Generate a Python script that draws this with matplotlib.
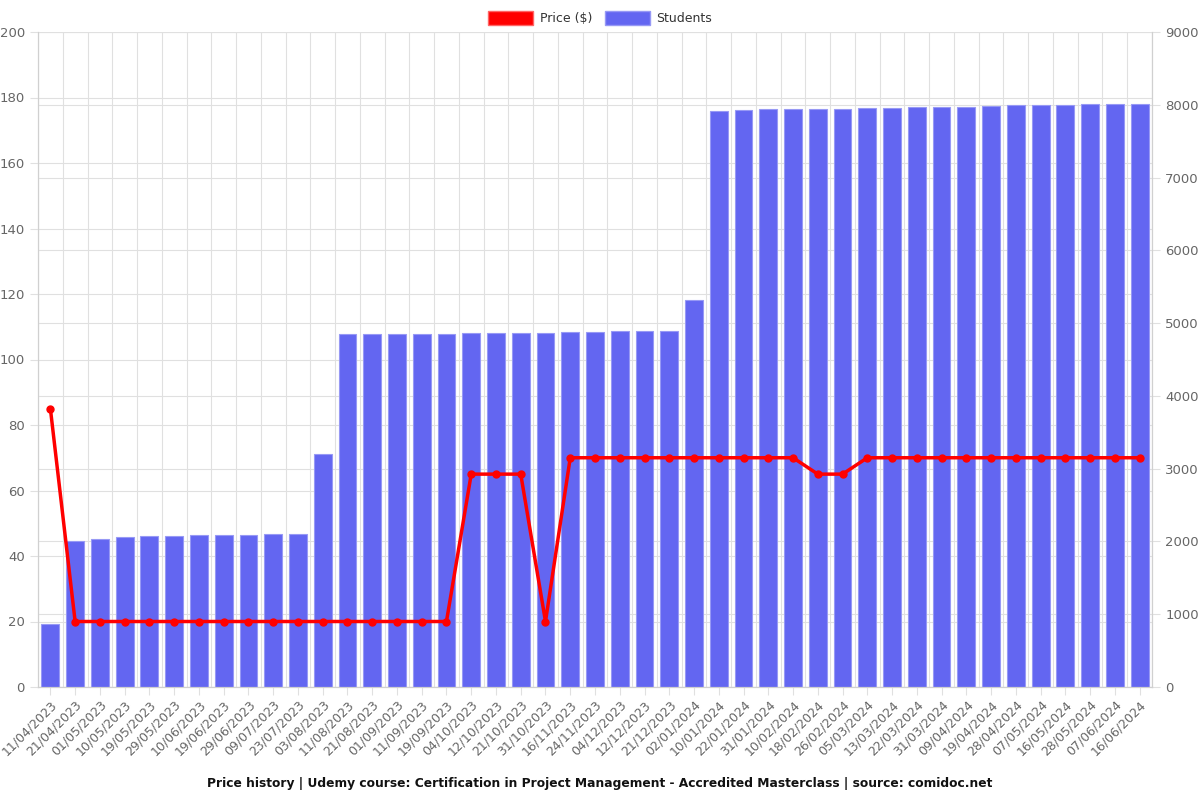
import matplotlib
matplotlib.use("Agg")
import matplotlib.pyplot as plt
from matplotlib.patches import Patch
import numpy as np

dates = ["11/04/2023", "21/04/2023", "01/05/2023", "10/05/2023", "19/05/2023", "29/05/2023",
         "10/06/2023", "19/06/2023", "29/06/2023", "09/07/2023", "23/07/2023", "03/08/2023",
         "11/08/2023", "21/08/2023", "01/09/2023", "11/09/2023", "19/09/2023", "04/10/2023",
         "12/10/2023", "21/10/2023", "31/10/2023", "16/11/2023", "24/11/2023", "04/12/2023",
         "12/12/2023", "21/12/2023", "02/01/2024", "10/01/2024", "22/01/2024", "31/01/2024",
         "10/02/2024", "18/02/2024", "26/02/2024", "05/03/2024", "13/03/2024", "22/03/2024",
         "31/03/2024", "09/04/2024", "19/04/2024", "28/04/2024", "07/05/2024", "16/05/2024",
         "28/05/2024", "07/06/2024", "16/06/2024"]

price = [85, 20, 20, 20, 20, 20, 20, 20, 20, 20, 20, 20, 20, 20, 20, 20, 20, 65, 65, 65,
         20, 70, 70, 70, 70, 70, 70, 70, 70, 70, 70, 65, 65, 70, 70, 70, 70, 70, 70, 70,
         70, 70, 70, 70, 70]

students = [868, 2006, 2033, 2056, 2070, 2079, 2088, 2090, 2093, 2098, 2102, 3197,
            4845, 4847, 4850, 4852, 4855, 4860, 4865, 4867, 4870, 4875, 4880, 4885,
            4890, 4895, 5317, 7914, 7928, 7937, 7939, 7942, 7946, 7956, 7958, 7965,
            7969, 7974, 7983, 7992, 7997, 8001, 8005, 8010, 8015]

fig = plt.figure(figsize=(12, 8), dpi=100)
ax = fig.add_axes([38/1200, 1 - 687/800, (1152-38)/1200, (687-32)/800])
ax2 = ax.twinx()

x = np.arange(len(dates))
bar_color = "#6366F1"
ax2.bar(x, students, width=0.72, color=bar_color, edgecolor="#9799F5", linewidth=0.8, zorder=2)
ax2.set_ylim(0, 9000)
ax2.set_yticks(np.arange(0, 9001, 1000))

ax.set_ylim(0, 200)
ax.set_yticks(np.arange(0, 201, 20))
ax.set_xlim(-0.5, len(dates) - 0.5)

ax.set_zorder(ax2.get_zorder() + 1)
ax.patch.set_visible(False)
ax.plot(x, price, color="#FF0000", linewidth=2.5, marker="o", markersize=5, zorder=5)

grid_c = "#E0E0E0"
for v in np.arange(0, 201, 20):
    ax2.axhline(v * 45, color=grid_c, linewidth=0.8, zorder=0)
for v in np.arange(0, 9001, 1000):
    ax2.axhline(v, color=grid_c, linewidth=0.8, zorder=0)
for b in np.arange(-0.5, len(dates), 1):
    ax2.axvline(b, color=grid_c, linewidth=0.8, zorder=0)

ax.set_xticks(x)
ax.set_xticklabels(dates, rotation=45, ha="right", rotation_mode="anchor", fontsize=9, color="#666666")
ax.tick_params(axis="x", length=6, color=grid_c, pad=2)
ax.tick_params(axis="y", labelsize=9.5, colors="#666666", length=6, color=grid_c)
ax2.tick_params(axis="y", labelsize=9.5, colors="#666666", length=6, color=grid_c)

for a in (ax, ax2):
    for s in a.spines.values():
        s.set_color("#D0D0D0")
        s.set_linewidth(0.8)
    a.spines["top"].set_visible(False)

handles = [Patch(facecolor="#FF0000", edgecolor="#FF6666"),
           Patch(facecolor=bar_color, edgecolor="#9799F5")]
fig.legend(handles, ["Price ($)", "Students"], loc="upper center", bbox_to_anchor=(0.5, 1.0),
           ncol=2, frameon=False, fontsize=9, handlelength=3.6, handleheight=1.3,
           columnspacing=1.0, handletextpad=0.5, labelcolor="#333333")

fig.text(0.5, 1 - 783/800, "Price history | Udemy course: Certification in Project Management - Accredited Masterclass | source: comidoc.net",
         ha="center", va="center", fontsize=8.8, fontweight="bold", color="#111111")

fig.savefig("out.png", dpi=100)
